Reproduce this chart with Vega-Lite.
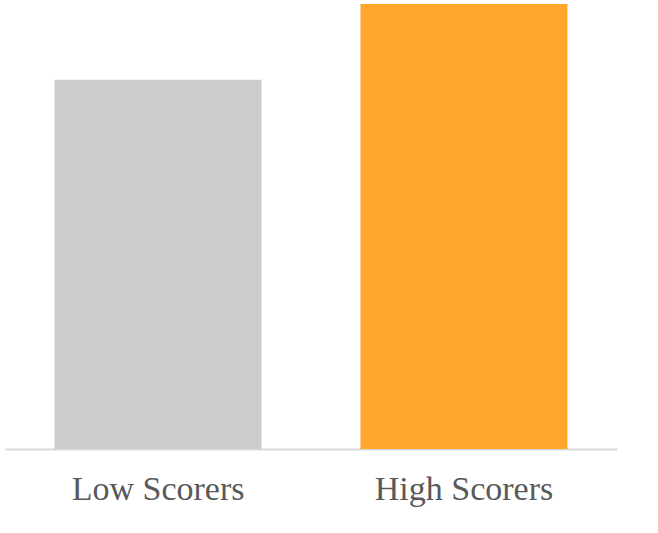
{
  "$schema": "https://vega.github.io/schema/vega-lite/v6.json",
  "description": "Low vs high scorers bar chart",
  "autosize": "none",
  "width": 612,
  "height": 445,
  "padding": {"left": 5, "top": 4, "right": 41, "bottom": 84},
  "data": {
    "values": [
      {"group": "Low Scorers", "value": 8.3},
      {"group": "High Scorers", "value": 10.0}
    ]
  },
  "view": {"stroke": null},
  "mark": {"type": "bar"},
  "encoding": {
    "x": {
      "field": "group",
      "type": "nominal",
      "sort": null,
      "scale": {"paddingInner": 0.3235, "paddingOuter": 0.162},
      "axis": {
        "title": null,
        "labelAngle": 0,
        "labelFont": "Liberation Serif",
        "labelFontSize": 34,
        "labelColor": "#595959",
        "labelPadding": 23,
        "ticks": false,
        "domainColor": "#d9d9d9",
        "domainWidth": 2
      }
    },
    "y": {
      "field": "value",
      "type": "quantitative",
      "scale": {"domain": [0, 10], "nice": false},
      "axis": null
    },
    "color": {
      "field": "group",
      "type": "nominal",
      "scale": {
        "domain": ["Low Scorers", "High Scorers"],
        "range": ["#cccccc", "#ffa62b"]
      },
      "legend": null
    }
  }
}
